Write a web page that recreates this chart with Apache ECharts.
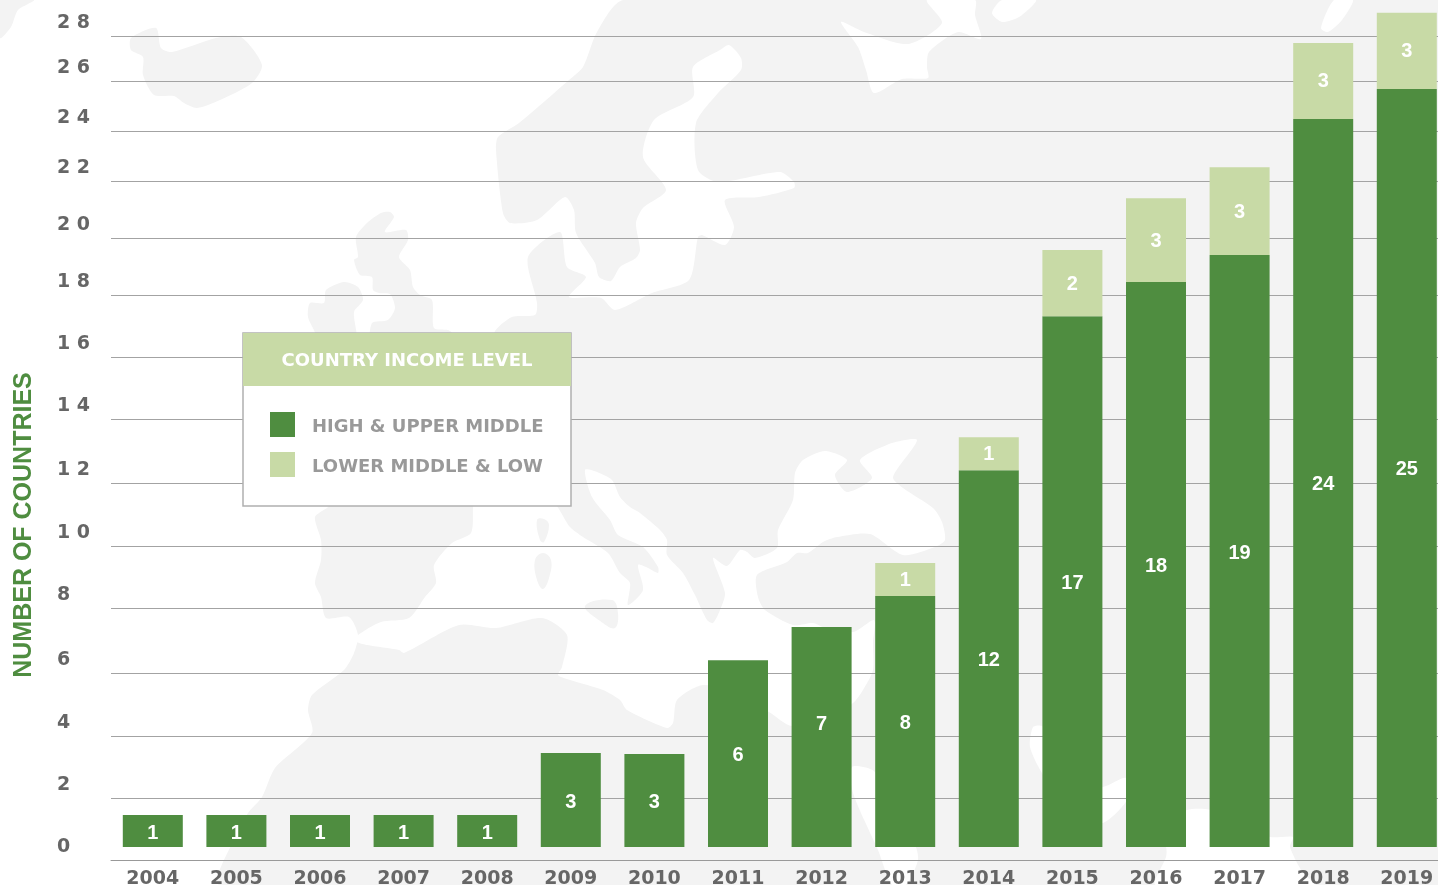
<!DOCTYPE html>
<html>
<head>
<meta charset="utf-8">
<title>Number of countries by income level</title>
<script src="https://cdn.jsdelivr.net/npm/echarts@6/dist/echarts.min.js"></script>
<style>
html, body { margin: 0; padding: 0; background: #fff; }
#chart { width: 1438px; height: 885px; }
</style>
</head>
<body>
<div id="chart"></div>
<script>
var years = ['2004','2005','2006','2007','2008','2009','2010','2011','2012','2013','2014','2015','2016','2017','2018','2019'];

// printed on the bars
var highLabels = [1,1,1,1,1,3,3,6,7,8,12,17,18,19,24,25];
var lowLabels = [null,null,null,null,null,null,null,null,null,1,1,2,3,3,3,3];

// bar heights as drawn (the original is not quite to scale)
var highValues = [1.02,1.02,1.02,1.02,1.02,3.00,2.97,5.97,7.03,8.02,12.04,16.96,18.05,18.91,23.26,24.22];
var lowValues = [null,null,null,null,null,null,null,null,null,1.05,1.05,2.11,2.68,2.81,2.43,2.43];

// the gridlines are unevenly spaced too, these are their spots on the same scale
var gridValues = [-0.415,1.565,3.546,5.559,7.636,9.617,11.63,13.674,15.655,17.636,19.457,21.278,22.875,24.473,25.911];
var tickLabels = ['0','2','4','6','8','1 0','1 2','1 4','1 6','1 8','2 0','2 2','2 4','2 6','2 8'];

var green = '#4f8d40';
var lightGreen = '#c8daa6';
var mapGrey = '#f3f3f3';

// background map, only decoration
var landMain = [[624,0],[597,32],[583,67],[569,80],[519,123],[498,137],[496,150],[503,213],[510,223],[537,220],[565,197],[574,210],[576,233],[595,263],[599,277],[611,281],[620,267],[636,258],[640,250],[636,223],[643,208],[666,190],[643,157],[654,120],[693,97],[693,67],[720,50],[729,45],[741,58],[741,70],[718,93],[696,123],[698,170],[718,182],[780,172],[794,182],[794,188],[759,197],[725,200],[734,227],[725,245],[702,235],[698,237],[689,280],[652,293],[615,310],[601,298],[569,297],[586,277],[567,267],[560,232],[528,257],[537,303],[535,315],[512,317],[494,333],[470,420],[330,500],[328,507],[315,517],[321,540],[321,560],[315,583],[321,597],[326,618],[349,617],[358,635],[354,653],[344,670],[312,695],[308,710],[312,733],[275,768],[262,797],[248,813],[232,843],[220,885],[1438,885],[1438,0]];
var landBits = [
    [[156,28],[161,48],[172,52],[216,38],[241,37],[262,65],[252,83],[220,100],[197,108],[184,103],[174,96],[154,95],[143,75],[143,57],[131,50],[131,38]],
    [[34,0],[18,10],[11,27],[0,38],[0,0]],
    [[390,212],[394,217],[385,232],[406,230],[408,240],[399,257],[410,270],[413,287],[420,295],[432,300],[434,328],[448,330],[452,333],[452,345],[372,345],[372,323],[388,320],[395,308],[390,294],[379,293],[373,290],[372,277],[360,275],[354,260],[358,257],[356,237],[367,223],[381,213]],
    [[326,290],[344,282],[358,287],[363,300],[354,312],[356,345],[315,345],[315,333],[308,317],[310,303],[324,303]]
];
var seas = [
    [[355,641],[358,635],[381,622],[409,618],[425,597],[436,583],[434,565],[452,543],[471,533],[473,507],[473,500],[550,500],[570,527],[583,537],[608,553],[620,573],[630,583],[628,605],[643,590],[638,565],[648,568],[658,573],[658,567],[643,547],[618,535],[610,520],[592,497],[585,470],[597,472],[612,480],[620,497],[630,507],[640,513],[660,530],[667,540],[667,555],[683,573],[695,595],[707,620],[713,623],[720,610],[725,593],[713,558],[727,566],[740,550],[747,552],[755,558],[777,548],[778,530],[793,500],[795,473],[803,460],[825,451],[847,460],[835,475],[847,492],[872,478],[860,460],[892,443],[917,440],[893,477],[903,488],[933,508],[942,522],[945,540],[935,547],[903,555],[870,534],[837,537],[823,542],[808,553],[797,553],[787,562],[757,575],[758,597],[765,610],[793,625],[813,623],[823,627],[853,632],[874,620],[873,643],[873,670],[863,690],[853,703],[830,715],[792,726],[769,712],[740,695],[703,685],[677,700],[673,723],[667,728],[627,710],[620,700],[603,690],[570,680],[558,675],[562,667],[567,635],[542,618],[496,628],[459,625],[404,653],[399,650],[367,645]],
    [[852,767],[874,771],[880,790],[915,845],[918,860],[906,885],[892,885],[878,850],[853,793]],
    [[1030,747],[1033,727],[1042,726],[1060,745],[1085,785],[1103,787],[1126,778],[1127,800],[1103,823],[1075,820],[1042,773]],
    [[1156,885],[1166,857],[1166,847],[1155,830],[1187,810],[1211,810],[1245,825],[1270,837],[1293,837],[1290,847],[1303,873],[1315,885]],
    [[841,22],[864,32],[908,44],[942,23],[927,0],[975,0],[975,15],[981,39],[958,32],[929,52],[927,67],[928,78],[902,79],[874,93],[866,70],[858,47]],
    [[1002,0],[992,13],[1002,22],[1019,17],[1036,0]],
    [[1334,0],[1321,28],[1328,32],[1342,20],[1353,0]]
];
var islands = [
    [[537,520],[544,519],[549,525],[544,542],[540,540]],
    [[535,560],[543,553],[551,560],[549,578],[543,589],[537,580]],
    [[585,606],[612,600],[618,613],[615,628],[603,623]]
];

function mapElements(){
    var list = [];
    list.push({type:'polygon', z:-30, silent:true, shape:{points:landMain, smooth:0.25}, style:{fill:mapGrey}});
    for(var i=0;i<landBits.length;i++){
        list.push({type:'polygon', z:-30, silent:true, shape:{points:landBits[i], smooth:0.25}, style:{fill:mapGrey}});
    }
    for(var a=0;a<seas.length;a++){
        list.push({type:'polygon', z:-20, silent:true, shape:{points:seas[a], smooth:0.25}, style:{fill:'#fff'}});
    }
    for(var b=0;b<islands.length;b++){
        list.push({type:'polygon', z:-10, silent:true, shape:{points:islands[b], smooth:0.4}, style:{fill:mapGrey}});
    }
    return list;
}

// the 7 sits well above the middle of its bar in the original
var highData = highValues.slice();
highData[8] = { value: highValues[8], label: { offset: [0, -13] } };

var chart = echarts.init(document.getElementById('chart'));
var option = {
    animation: false,
    backgroundColor: '#fff',
    grid: { left: 111, width: 1337.6, top: 0, height: 860, outerBoundsMode: 'none' },
    legend: {
        orient: 'vertical',
        left: 270,
        top: 412,
        padding: 0,
        itemWidth: 25,
        itemHeight: 25,
        itemGap: 15,
        selectedMode: false,
        icon: 'rect',
        formatter: '{a|{name}}',
        textStyle: {
            padding: [0, 0, 0, 12],
            rich: {
                a: {
                    color: '#999',
                    fontFamily: 'DejaVu Sans',
                    fontWeight: 'bold',
                    fontSize: 18,
                    padding: [6, 0, 0, 0]
                }
            }
        },
        data: ['HIGH & UPPER MIDDLE', 'LOWER MIDDLE & LOW']
    },
    xAxis: {
        type: 'category',
        data: years,
        axisLine: { onZero: false, lineStyle: { color: '#999', width: 1 } },
        axisTick: { show: false },
        axisLabel: {
            color: '#666',
            fontFamily: 'DejaVu Sans',
            fontWeight: 'bold',
            fontSize: 19,
            margin: 10,
            interval: 0
        }
    },
    yAxis: {
        type: 'value',
        min: -0.415,
        max: 27.06,
        axisLine: { show: false },
        axisTick: { show: false, customValues: gridValues },
        axisLabel: {
            customValues: gridValues,
            color: '#666',
            fontFamily: 'DejaVu Sans',
            fontWeight: 'bold',
            fontSize: 19,
            margin: 54,
            align: 'left',
            verticalAlign: 'bottom',
            lineHeight: 26,
            formatter: function(v){
                return tickLabels[gridValues.indexOf(v)];
            }
        },
        splitLine: { show: true, customValues: gridValues, lineStyle: { color: '#a3a3a3', width: 1 } }
    },
    series: [{
        name: 'HIGH & UPPER MIDDLE',
        type: 'bar',
        stack: 'total',
        barWidth: 60,
        itemStyle: { color: green },
        label: {
            show: true,
            position: 'inside',
            offset: [0, 2],
            color: '#fff',
            fontFamily: 'Liberation Sans',
            fontWeight: 'bold',
            fontSize: 20,
            formatter: function(p){ return highLabels[p.dataIndex]; }
        },
        data: highData
    }, {
        name: 'LOWER MIDDLE & LOW',
        type: 'bar',
        stack: 'total',
        barWidth: 60,
        itemStyle: { color: lightGreen },
        label: {
            show: true,
            position: 'inside',
            offset: [0, 1],
            color: '#fff',
            fontFamily: 'Liberation Sans',
            fontWeight: 'bold',
            fontSize: 20,
            formatter: function(p){ return lowLabels[p.dataIndex]; }
        },
        data: lowValues
    }],
    graphic: mapElements().concat([
        {type:'rect', z:3, silent:true, shape:{x:243,y:333,width:328,height:173}, style:{fill:'#fff', stroke:'#b0b0b0', lineWidth:1.5}},
        {type:'rect', z:3, silent:true, shape:{x:243,y:333,width:328,height:53}, style:{fill:lightGreen}},
        {type:'text', z:4, silent:true, x:407, y:361, style:{text:'COUNTRY INCOME LEVEL', fill:'#fff', font:'bold 18px "DejaVu Sans"', textAlign:'center', textVerticalAlign:'middle'}},
        {type:'text', z:4, silent:true, x:24, y:525, rotation:Math.PI/2, style:{text:'NUMBER OF COUNTRIES', fill:green, font:'bold 25px "Liberation Sans"', textAlign:'center', textVerticalAlign:'middle'}}
    ])
};
chart.setOption(option);
</script>
</body>
</html>
